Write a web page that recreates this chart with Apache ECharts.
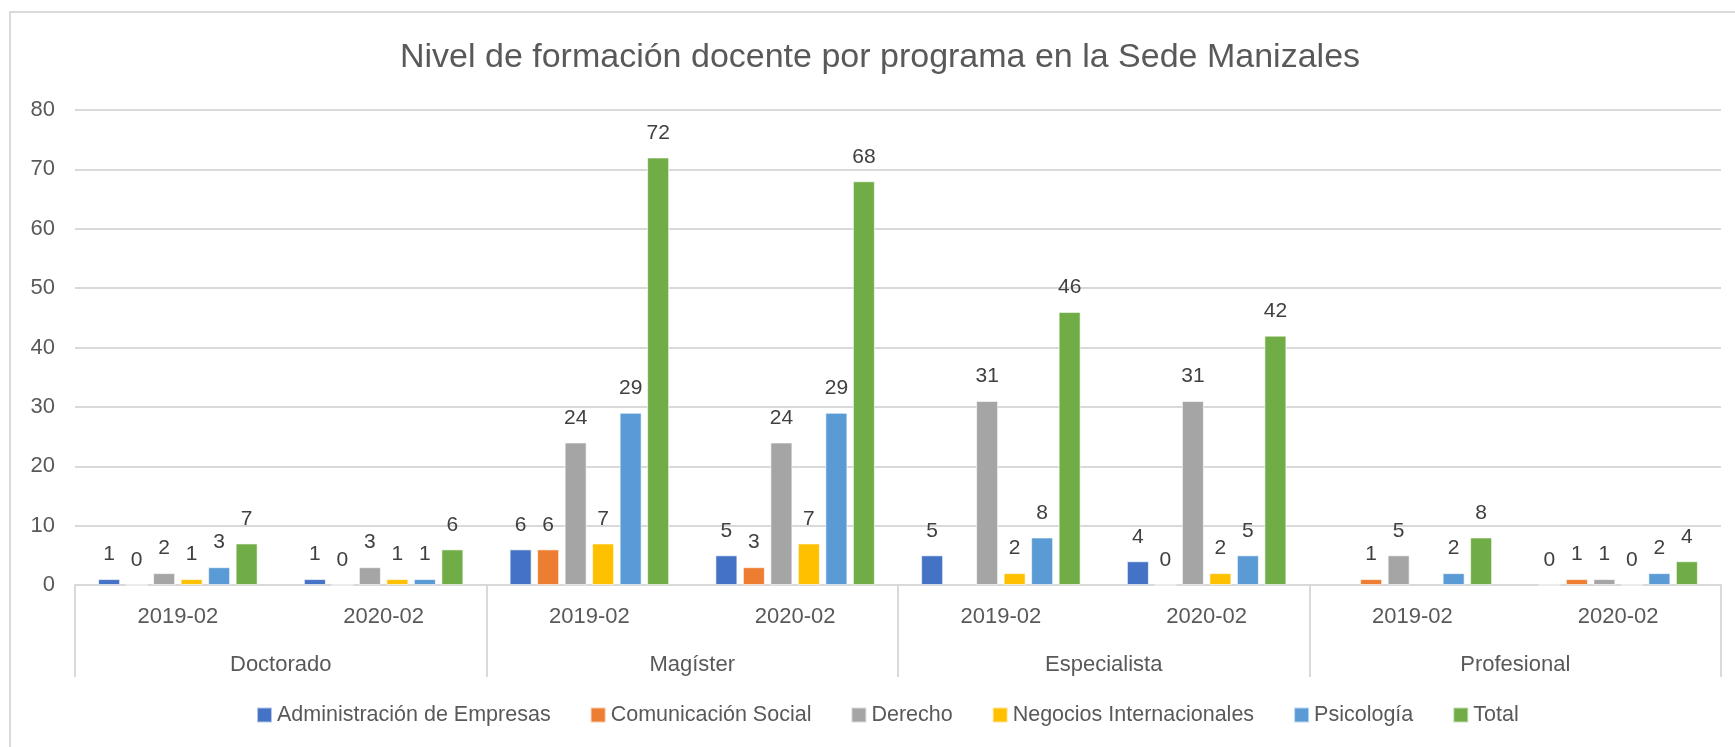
<!DOCTYPE html>
<html>
<head>
<meta charset="utf-8">
<script src="https://cdn.jsdelivr.net/npm/echarts@6/dist/echarts.min.js"></script>
<style>
  html, body { margin: 0; padding: 0; background: #fff; }
  #chart { width: 1735px; height: 747px; }
  .frame {
    position: absolute; left: 9px; top: 11px; width: 1740px; height: 750px;
    border-left: 2px solid #d9d9d9; border-top: 2px solid #d9d9d9; pointer-events: none;
  }
</style>
</head>
<body>
<div id="chart"></div>
<div class="frame"></div>
<script>
// periods (inner axis level) and levels (outer axis level)
const periods = ["2019-02", "2020-02", "2019-02", "2020-02", "2019-02", "2020-02", "2019-02", "2020-02"];
const levels = ["Doctorado", "Magíster", "Especialista", "Profesional"];

// null = no bar and no label in the original
const administracion = [1, 1, 6, 5, 5, 4, null, 0];
const comunicacion = [0, 0, 6, 3, null, 0, 1, 1];
const derecho = [2, 3, 24, 24, 31, 31, 5, 1];
const negocios = [1, 1, 7, 7, 2, 2, null, 0];
const psicologia = [3, 1, 29, 29, 8, 5, 2, 2];
const total = [7, 6, 72, 68, 46, 42, 8, 4];

const seriesNames = ["Administración de Empresas", "Comunicación Social", "Derecho",
  "Negocios Internacionales", "Psicología", "Total"];
const seriesData = [administracion, comunicacion, derecho, negocios, psicologia, total];
const colors = ["#4472C4", "#ED7D31", "#A5A5A5", "#FFC000", "#5B9BD5", "#70AD47"];

const FONT = "Liberation Sans";
const TXT = "#595959";

const chart = echarts.init(document.getElementById("chart"));
chart.setOption({
  animation: false,
  color: colors,
  textStyle: { fontFamily: FONT },
  title: {
    text: "Nivel de formación docente por programa en la Sede Manizales",
    left: 875,
    textAlign: "center",
    top: 36,
    textStyle: { fontFamily: FONT, fontSize: 34, fontWeight: "normal", color: TXT },
  },
  legend: {
    bottom: 16,
    left: 251,
    itemWidth: 15,
    itemHeight: 15,
    itemGap: 39,
    icon: "rect",
    textStyle: { fontFamily: FONT, fontSize: 21.5, color: TXT },
  },
  grid: { left: 75, right: 14, top: 110, bottom: 162, containLabel: false },
  xAxis: [
    {
      type: "category",
      data: periods,
      position: "bottom",
      axisLine: { lineStyle: { color: "#d9d9d9", width: 2 } },
      axisTick: { show: false },
      axisLabel: { fontFamily: FONT, fontSize: 22, color: TXT, margin: 21 },
    },
    {
      type: "category",
      data: levels,
      position: "bottom",
      axisLine: { show: false },
      axisTick: { show: true, length: 92, lineStyle: { color: "#d9d9d9", width: 2 } },
      axisLabel: { fontFamily: FONT, fontSize: 22, color: TXT, margin: 69 },
    },
  ],
  yAxis: {
    type: "value",
    min: 0,
    max: 80,
    interval: 10,
    axisLine: { show: false },
    axisTick: { show: false },
    splitLine: { lineStyle: { color: "#d9d9d9", width: 2 } },
    axisLabel: { fontFamily: FONT, fontSize: 22, color: TXT, margin: 20 },
  },
  series: seriesNames.map((name, i) => ({
    name: name,
    type: "bar",
    xAxisIndex: 0,
    data: seriesData[i].map(v => (v === null ? "-" : v)),
    barWidth: 22,
    barGap: "25%",
    itemStyle: { color: colors[i], borderColor: "rgba(255,255,255,0.6)", borderWidth: 1 },
    label: {
      show: true,
      position: "top",
      distance: 14,
      fontFamily: FONT,
      fontSize: 21,
      color: "#404040",
    },
  })),
});
</script>
</body>
</html>
